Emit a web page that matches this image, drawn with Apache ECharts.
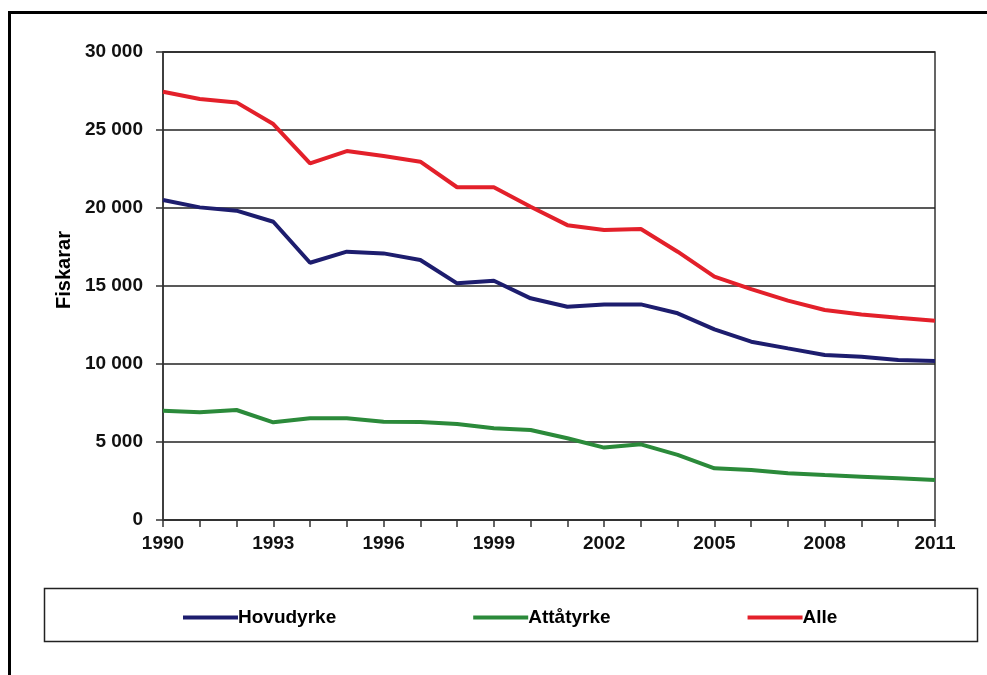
<!DOCTYPE html>
<html>
<head>
<meta charset="utf-8">
<script src="https://cdn.jsdelivr.net/npm/echarts@6/dist/echarts.min.js"></script>
<style>
html,body{margin:0;padding:0;background:#fff;}
#chart{width:987px;height:675px;}
</style>
</head>
<body>
<div id="chart"></div>
<script>
const years = ['1990','1991','1992','1993','1994','1995','1996','1997','1998','1999','2000','2001','2002','2003','2004','2005','2006','2007','2008','2009','2010','2011'];
const hovudyrke = [20510,20040,19830,19120,16490,17200,17090,16670,15170,15340,14210,13670,13820,13820,13250,12220,11430,11000,10580,10470,10260,10190];
const attatyrke = [7010,6900,7050,6260,6520,6520,6300,6280,6150,5880,5770,5240,4640,4850,4170,3310,3200,2990,2880,2780,2670,2560];
const alle = [27450,26990,26770,25380,22860,23650,23330,22970,21330,21330,20080,18900,18590,18650,17200,15600,14800,14060,13460,13180,12970,12780];
const seriesNames = ['Hovudyrke','Attåtyrke','Alle'];
const yTicks = [0,5000,10000,15000,20000,25000,30000];

const colors = ['#1d1d6e','#2b8a3a','#e3202a'];
const font = '"Liberation Sans", Arial, sans-serif';
const chart = echarts.init(document.getElementById('chart'));
function fmt(v){ return String(v).replace(/\B(?=(\d{3})+(?!\d))/g,' '); }
chart.setOption({
  animation:false,
  backgroundColor:'#fff',
  color: colors,
  graphic:[
    {type:'rect', shape:{x:9.5,y:12.5,width:1200,height:1000}, style:{fill:'none',stroke:'#000',lineWidth:3}, silent:true, z:-1},
    {type:'rect', shape:{x:44.5,y:588.5,width:933,height:53}, style:{fill:'none',stroke:'#222',lineWidth:1.5}, silent:true}
  ],
  grid:{left:163,right:52,top:52,bottom:155,show:true,borderColor:'#333',borderWidth:1.5,backgroundColor:'transparent'},
  legend:{
    data: seriesNames,
    left:178, top:603,
    itemWidth:55, itemHeight:14, itemGap:137,
    icon:'path://M0,5 L55,5 L55,9 L0,9 Z',
    textStyle:{fontFamily:font,fontWeight:'bold',fontSize:19,color:'#000',padding:[0,0,0,-5]}
  },
  xAxis:{
    type:'category', data: years, boundaryGap:false,
    axisLine:{lineStyle:{color:'#333',width:1.5}},
    axisTick:{show:true,interval:0,length:7,lineStyle:{color:'#333',width:1.5}},
    axisLabel:{interval:2,margin:14,fontFamily:font,fontWeight:'bold',fontSize:19,color:'#111'},
    splitLine:{show:false}
  },
  yAxis:{
    type:'value', min:0, max:30000, interval:5000,
    name:'Fiskarar', nameLocation:'middle', nameGap:89, nameRotate:90,
    nameTextStyle:{fontFamily:font,fontWeight:'bold',fontSize:20,color:'#000',padding:[0,0,0,32]},
    axisLine:{show:true,lineStyle:{color:'#333',width:1.5}},
    axisTick:{show:true,length:7,lineStyle:{color:'#333',width:1.5}},
    axisLabel:{margin:20,fontFamily:font,fontWeight:'bold',fontSize:19,color:'#111',formatter:function(v){return fmt(v);}},
    splitLine:{show:true,lineStyle:{color:'#222',width:1.5}}
  },
  series:[
    {name:seriesNames[0],type:'line',data:hovudyrke,symbol:'none',lineStyle:{width:4,color:colors[0]},itemStyle:{color:colors[0]}},
    {name:seriesNames[1],type:'line',data:attatyrke,symbol:'none',lineStyle:{width:4,color:colors[1]},itemStyle:{color:colors[1]}},
    {name:seriesNames[2],type:'line',data:alle,symbol:'none',lineStyle:{width:4,color:colors[2]},itemStyle:{color:colors[2]}}
  ]
});
</script>
</body>
</html>
